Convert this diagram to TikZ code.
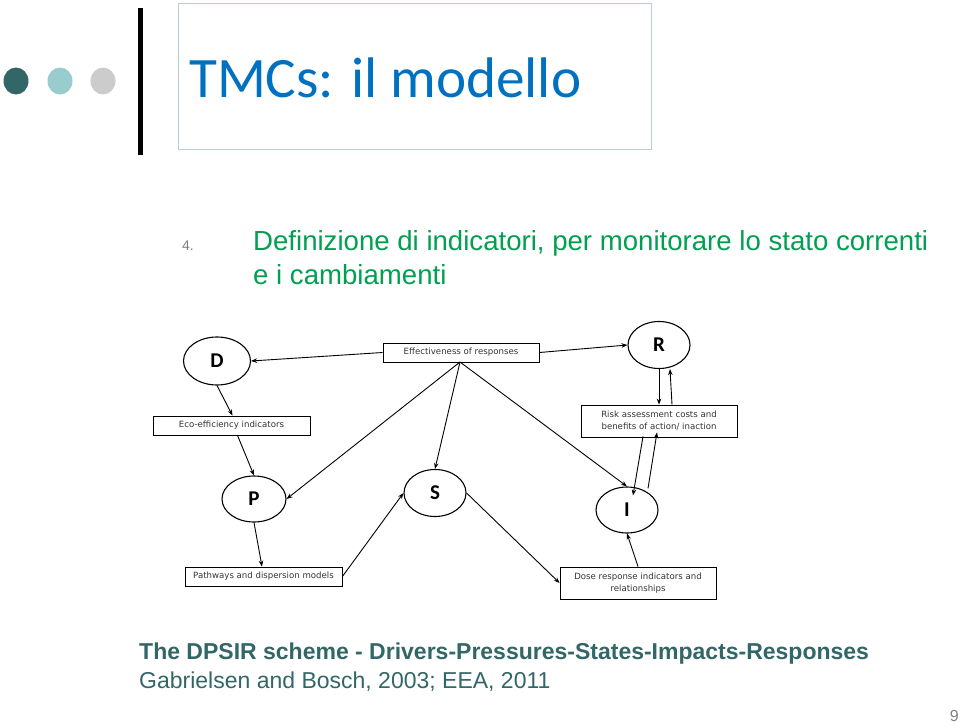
\documentclass[tikz,border=0pt]{standalone}
\usepackage{fontspec}
\setmainfont{Liberation Sans}
\newfontfamily\calib{Carlito}
\newfontfamily\dejav{DejaVu Sans}
\usetikzlibrary{arrows.meta,shapes.geometric}
\definecolor{teal1}{HTML}{336666}
\definecolor{teal2}{HTML}{99CCCC}
\definecolor{grey1}{HTML}{CCCCCC}
\definecolor{titleblue}{HTML}{0070C0}
\definecolor{boxline}{HTML}{B4D2D2}
\definecolor{green1}{HTML}{00A050}
\definecolor{dtext}{HTML}{333333}
\tikzset{
  ell/.style={draw, ellipse, line width=1.1pt, inner sep=0pt, font=\calib\bfseries\fontsize{21}{21}\selectfont},
  lbox/.style={draw, line width=0.8pt, inner sep=0pt, align=center, text=dtext, font=\dejav\fontsize{8.6}{12}\selectfont},
  arr/.style={line width=0.9pt, -{Stealth[length=6pt,width=4.5pt]}},
  ln/.style={line width=0.8pt}
}
\begin{document}
\begin{tikzpicture}[x=1pt,y=-1pt]
\useasboundingbox (0,0) rectangle (960,725);
% header decorations
\fill[teal1] (16,81) ellipse (12.5 and 13.5);
\fill[teal2] (60,81) ellipse (12.5 and 13.5);
\fill[grey1] (103,81) ellipse (12.5 and 13.5);
\fill[black] (138,8) rectangle (143,155);
\node[draw=boxline, line width=0.8pt, minimum width=473pt, minimum height=146pt, anchor=north west, inner sep=0pt] (titlebox) at (178,3) {};
\node[anchor=base west, inner sep=0pt, text=titleblue, font=\calib\fontsize{57.2}{57.2}\selectfont] (title) at (189,97) {TMCs: il modello};
% bullet text
\node[anchor=base west, inner sep=0pt, text=gray, font=\fontsize{14}{14}\selectfont] (num) at (182,250) {4.};
\node[anchor=base west, inner sep=0pt, text=green1, font=\fontsize{27.6}{27.6}\selectfont] (l1) at (253,250) {Definizione di indicatori, per monitorare lo stato correnti};
\node[anchor=base west, inner sep=0pt, text=green1, font=\fontsize{27.6}{27.6}\selectfont] (l2) at (253,284) {e i cambiamenti};
% diagram nodes
\node[ell, minimum width=67pt, minimum height=48pt] (D) at (217,361) {D};
\node[ell, minimum width=62pt, minimum height=47pt] (R) at (659,345) {R};
\node[ell, minimum width=64pt, minimum height=46pt] (P) at (254,499) {P};
\node[ell, minimum width=62pt, minimum height=47pt] (S) at (435,493) {S};
\node[ell, minimum width=62pt, minimum height=46pt] (I) at (627,510) {I};
\node[lbox, minimum width=156pt, minimum height=19pt] (E) at (461,352.5) {Effectiveness of responses};
\node[lbox, minimum width=157pt, minimum height=19pt] (Eco) at (231.5,425.5) {Eco-efficiency indicators};
\node[lbox, minimum width=156pt, minimum height=32pt] (Risk) at (659,421) {Risk assessment costs and\\benefits of action/ inaction};
\node[lbox, minimum width=157pt, minimum height=19pt] (Path) at (263.5,576.5) {Pathways and dispersion models};
\node[lbox, minimum width=156pt, minimum height=32pt] (Dose) at (638,583) {Dose response indicators and\\relationships};
\coordinate (Eb) at (460,362);
% connectors
\draw[arr] (E.west) -- (D.east);
\draw[arr] (E.east) -- (R.west);
\draw[arr] (Eb) -- (P.east);
\draw[arr] (Eb) -- (S.north);
\draw[arr] (Eb) -- (I.north);
\draw[arr] (D.south) -- ([xshift=1pt]Eco.north);
\draw[arr] ([xshift=6pt]Eco.south) -- (P.north);
\draw[arr] (P.south) -- ([xshift=-1.5pt]Path.north);
\draw[arr] (Path.east) -- (S.west);
\draw[arr] (S.east) -- (Dose.west);
\draw[arr] (Dose.north) -- (I.south);
\draw[arr] (R.south) -- (Risk.north);
\draw[arr] ([xshift=13pt]Risk.north) -- ([xshift=11pt]R.south);
\draw[arr] ([xshift=-16pt,yshift=1pt]Risk.south) -- ([xshift=6pt,yshift=-9pt]I.north);
\draw[arr] ([xshift=21pt,yshift=-2pt]I.north) -- ([xshift=-2pt,yshift=5pt]Risk.south);
% caption
\node[anchor=base west, inner sep=0pt, text=teal1, font=\bfseries\fontsize{23}{23}\selectfont] (cap1) at (139,659) {The DPSIR scheme - Drivers-Pressures-States-Impacts-Responses};
\node[anchor=base west, inner sep=0pt, text=teal1, font=\fontsize{23}{23}\selectfont] (cap2) at (139,688) {Gabrielsen and Bosch, 2003; EEA, 2011};
\node[anchor=base east, inner sep=0pt, text=gray, font=\fontsize{16}{16}\selectfont] (pg) at (959,721) {9};
\end{tikzpicture}
\end{document}
